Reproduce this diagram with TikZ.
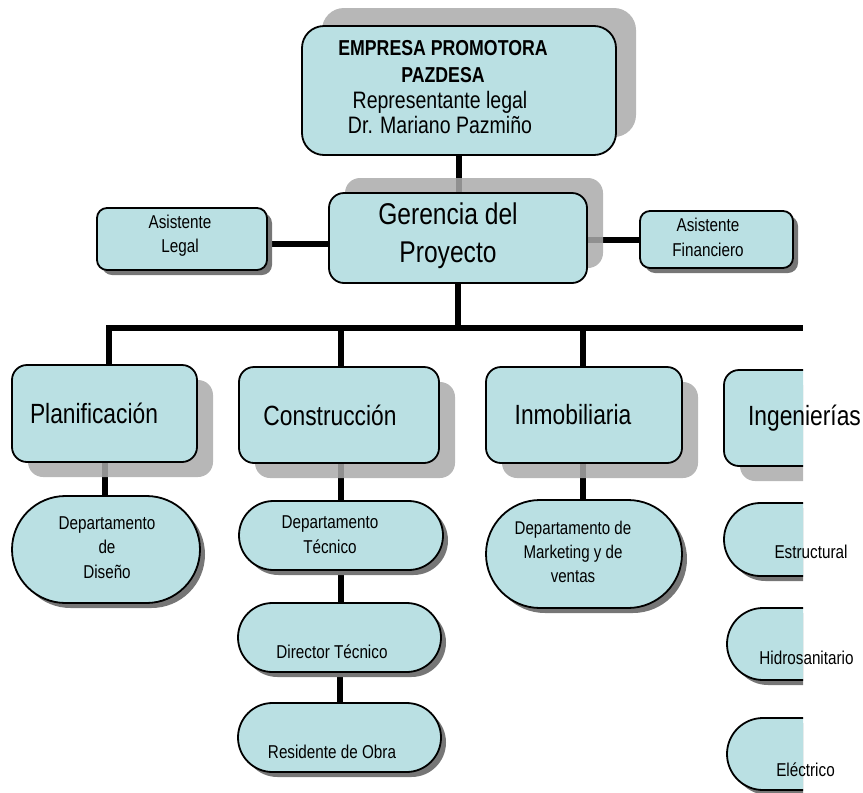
\documentclass[tikz,border=0pt]{standalone}
\usepackage{fontspec}
\setmainfont[FakeStretch=0.82]{Liberation Sans}
\usetikzlibrary{shapes.misc,shadows}
\definecolor{boxblue}{RGB}{186,224,227}
\definecolor{softshade}{RGB}{170,170,170}
\definecolor{darkshade}{RGB}{118,118,118}
\pgfdeclarelayer{wires}
\pgfsetlayers{wires,main}
\tikzset{
  card/.style={draw=black, line width=1.8pt, fill=boxblue, inner sep=0pt},
  roundbox/.style={card, rectangle, rounded corners=#1},
  pill/.style={card, rounded rectangle},
  softshadow/.style 2 args={general shadow={fill=softshade, fill opacity=.85,
      shadow xshift=#1, shadow yshift=#2}},
  hardshadow/.style={general shadow={fill=darkshade, shadow xshift=5pt, shadow yshift=-5pt}},
  wire/.style={line width=6pt},
  txt/.style={inner sep=0pt, align=center, text=black},
  small/.style={txt, font=\fontsize{18.6}{24.5}\selectfont},
  unit/.style={txt, font=\fontsize{27.8}{34}\selectfont},
}
\begin{document}
\begin{tikzpicture}[x=1pt,y=-1pt]
\useasboundingbox (0,0) rectangle (863,793);

% ---- top of the chart
\node[roundbox=22pt, softshadow={20pt}{18pt}, minimum width=314pt, minimum height=129pt] (top) at (459,90.5) {};
\node[txt, font=\bfseries\fontsize{21.6}{27}\selectfont] (topname) at (443,61.5) {EMPRESA PROMOTORA\\PAZDESA};
\node[txt, font=\fontsize{23.8}{25}\selectfont] (toprep) at (440,112.5) {Representante legal\\Dr. Mariano Pazmiño};

\node[roundbox=15pt, softshadow={16pt}{15pt}, minimum width=258pt, minimum height=90pt] (ger) at (458,238) {};
\node[txt, font=\fontsize{30}{38}\selectfont] (gertext) at (448,236) {Gerencia del\\Proyecto};

% ---- assistants
\node[roundbox=10pt, hardshadow, minimum width=170pt, minimum height=62pt] (legal) at (182,239) {};
\node[small] (legaltext) at (180,235.5) {Asistente\\Legal};
\node[roundbox=10pt, hardshadow, minimum width=153pt, minimum height=57pt] (fin) at (716.5,239.5) {};
\node[small] (fintext) at (708,237.5) {Asistente\\Financiero};

% ---- departments
\node[roundbox=15pt, softshadow={16pt}{-15pt}, minimum width=185pt, minimum height=97pt] (plan) at (104.5,413.5) {};
\node[unit] (plantext) at (94,413) {Planificación};
\node[roundbox=15pt, softshadow={16pt}{-15pt}, minimum width=200pt, minimum height=96pt] (cons) at (339,415) {};
\node[unit] (constext) at (330,415) {Construcción};
\node[roundbox=15pt, softshadow={16pt}{-15pt}, minimum width=196pt, minimum height=96pt] (inmo) at (584,415) {};
\node[unit] (inmotext) at (573,415) {Inmobiliaria};

% ---- sub-units
\node[pill, hardshadow, minimum width=188pt, minimum height=107pt] (dis) at (106,549.5) {};
\node[small] (distext) at (107,547.5) {Departamento\\de\\Diseño};
\node[pill, hardshadow, minimum width=204pt, minimum height=69pt] (tec) at (341,535.5) {};
\node[small] (tectext) at (330,534.5) {Departamento\\Técnico};
\node[pill, hardshadow, minimum width=203pt, minimum height=69pt] (dir) at (339.5,637.5) {};
\node[small] (dirtext) at (332,652) {Director Técnico};
\node[pill, hardshadow, minimum width=203pt, minimum height=69pt] (res) at (339.5,737.5) {};
\node[small] (restext) at (332,752) {Residente de Obra};
\node[pill, hardshadow, minimum width=196pt, minimum height=108pt] (mkt) at (584,554) {};
\node[small, font=\fontsize{18.4}{24}\selectfont] (mkttext) at (573,552) {Departamento de\\Marketing y de\\ventas};

% ---- engineering column, cut off at the right edge of the page area
\begin{scope}
  \clip (0,0) rectangle (803,793);
  \node[roundbox=15pt, softshadow={16pt}{-15pt}, minimum width=196pt, minimum height=96pt] (inge) at (822,418) {};
  \node[pill, hardshadow, minimum width=200pt, minimum height=73pt] (est) at (824,539.5) {};
  \node[pill, hardshadow, minimum width=200pt, minimum height=72pt] (hid) at (827,644) {};
  \node[pill, hardshadow, minimum width=200pt, minimum height=72pt] (ele) at (827,754) {};
\end{scope}
\node[unit] (ingetext) at (804.5,418) {Ingenierías};
\node[small] (esttext) at (811,552) {Estructural};
\node[small] (hidtext) at (806.5,658) {Hidrosanitario};
\node[small] (eletext) at (805.5,770) {Eléctrico};

% ---- connectors
\coordinate (busL) at (106,328);
\coordinate (busR) at (803,328);
\coordinate (b1) at (109,328);
\coordinate (b2) at (341,328);
\coordinate (b3) at (583,328);
\begin{pgfonlayer}{wires}
  \draw[wire] (top.south) -- (top.south |- ger.north);
  \draw[wire] ([yshift=-5pt]legal.east) -- ([yshift=-5pt]legal.east -| ger.west);
  \draw[wire] (ger.east |- fin.west) -- (fin.west);
  \draw[wire] (ger.south) -- (ger.south |- busL);
  \draw[wire] (busL) -- (busR);
  \draw[wire] (b1) -- (b1 |- plan.north);
  \draw[wire] (b2) -- (b2 |- cons.north);
  \draw[wire] (b3) -- (b3 |- inmo.north);
  \draw[wire] (plan.south) -- (plan.south |- dis.north);
  \draw[wire] (cons.south -| tec.north) -- (tec.north);
  \draw[wire] (tec.south) -- (tec.south |- dir.north);
  \draw[wire] (dir.south) -- (dir.south |- res.north);
  \draw[wire] (inmo.south -| b3) -- (b3 |- mkt.north);
\end{pgfonlayer}
\end{tikzpicture}
\end{document}
